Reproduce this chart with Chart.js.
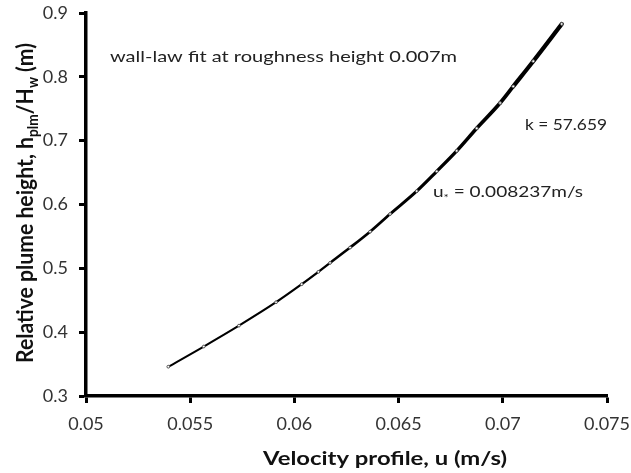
<!DOCTYPE html>
<html><head><meta charset="utf-8">
<script src="https://cdn.jsdelivr.net/npm/chart.js@4.4.1/dist/chart.umd.min.js"></script>
<style>html,body{margin:0;padding:0;background:#fff;}#wrap{width:631px;height:473px;}</style>
</head><body><div id="wrap"><canvas id="c" width="631" height="473"></canvas></div>
<script>
const velocity = [0.05395,0.05565,0.05734,0.05912,0.06035,0.06115,0.06171,0.06267,0.06363,0.06459,0.06587,0.06683,0.06779,0.06875,0.06987,0.07050,0.07146,0.07283];
const relHeight = [0.3459,0.3775,0.4102,0.4469,0.4751,0.4945,0.5085,0.5325,0.5574,0.5851,0.6210,0.6520,0.6840,0.7194,0.7590,0.7850,0.8245,0.8828];
const xTickLabels = ['0.05','0.055','0.06','0.065','0.07','0.075'];
const yTickLabels = ['0.3','0.4','0.5','0.6','0.7','0.8','0.9'];
const noteFit = [{t:'wall-law fit at roughness height 0.007m'}];
const noteK = [{t:'k = 57.659'}];
const noteU = [{t:'u'},{t:'*',sub:true},{t:' = 0.008237m/s'}];
const yTitle = [{t:'Relative plume height, h'},{t:'plm',sub:true},{t:'/H'},{t:'w',sub:true},{t:' (m)'}];
const xTitle = [{t:'Velocity profile, u (m/s)'}];

const FONT = 'Lato, "Noto Sans", sans-serif';

function richWidth(ctx, parts, size, weight){
  let w=0;
  for(const p of parts){ctx.font = weight+' '+(p.sub?size*0.65:size)+'px '+FONT; w+=ctx.measureText(p.t).width;}
  return w;
}
// draw text whose left edge is at x0 and which is horizontally fitted to the given width
function drawFit(ctx, parts, x0, y, width, size, weight){
  const w = richWidth(ctx, parts, size, weight);
  ctx.save();
  ctx.translate(x0, y);
  ctx.scale(width / w, 1);
  let cx = 0;
  ctx.textBaseline='alphabetic'; ctx.textAlign='left';
  for(const p of parts){
    const s = p.sub?size*0.65:size;
    ctx.font = weight+' '+s+'px '+FONT;
    ctx.fillText(p.t, cx, p.sub? size*0.22 : 0);
    cx += ctx.measureText(p.t).width;
  }
  ctx.restore();
}

const notes = {
  id:'notes',
  afterDraw(chart){
    const ctx = chart.ctx;
    ctx.save();
    ctx.fillStyle='#222';
    drawFit(ctx, noteFit, 110, 62, 347, 16, 'normal');
    drawFit(ctx, noteK, 525, 130, 82, 16, 'normal');
    drawFit(ctx, noteU, 433, 197, 150, 16, 'normal');
    ctx.fillStyle='#111';
    drawFit(ctx, xTitle, 263, 465, 244, 18, 'bold');
    ctx.translate(33, 363);
    ctx.scale(1.2, 1);
    ctx.rotate(-Math.PI/2);
    drawFit(ctx, yTitle, 0, 0, 320, 19, 'bold');
    ctx.restore();
  }
};

new Chart(document.getElementById('c'), {
  type:'scatter',
  data:{datasets:[{
    data: velocity.map((v,i)=>({x:v,y:relHeight[i]})),
    showLine:true,
    borderColor:'#000',
    backgroundColor:'#fff',
    pointBorderColor:'#555',
    pointBorderWidth:1,
    pointRadius:1.4,
    borderWidth:2,
    borderJoinStyle:'round',
    borderCapStyle:'round',
    segment:{borderWidth: c => 2 + 2.5*Math.pow(c.p0DataIndex/(velocity.length-1),1.5)},
    cubicInterpolationMode:'monotone'
  }]},
  plugins:[notes],
  options:{
    responsive:false, animation:false,
    layout:{padding:{left:0,top:13,right:24,bottom:0}},
    plugins:{legend:{display:false},tooltip:{enabled:false}},
    scales:{
      x:{type:'linear',min:0.05,max:0.075,
        afterBuildTicks(s){s.ticks = xTickLabels.map(t=>({value:parseFloat(t)}));},
        afterFit(s){s.height = 77; s.paddingLeft = 0; s.paddingRight = 0;},
        ticks:{callback:(v,i)=>xTickLabels[i],color:'#333',font:{size:18,family:FONT},padding:10},
        grid:{drawOnChartArea:false,drawTicks:true,tickLength:7,tickColor:'#000',tickWidth:3},
        border:{display:true,color:'#000',width:3.5},
        title:{display:false}
      },
      y:{type:'linear',min:0.3,max:0.9,
        afterBuildTicks(s){s.ticks = yTickLabels.map(t=>({value:parseFloat(t)}));},
        afterFit(s){s.width = 86; s.paddingTop = 0; s.paddingBottom = 0;},
        ticks:{callback:(v,i)=>yTickLabels[i],color:'#333',font:{size:18,family:FONT},padding:11},
        grid:{drawOnChartArea:false,drawTicks:true,tickLength:7,tickColor:'#000',tickWidth:3},
        border:{display:true,color:'#000',width:3.5},
        title:{display:false}
      }
    }
  }
});
</script></body></html>
